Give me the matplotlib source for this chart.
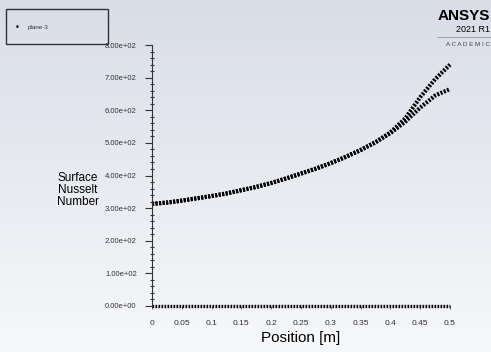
import numpy as np
import matplotlib.pyplot as plt
from matplotlib.ticker import MultipleLocator
from matplotlib.colors import LinearSegmentedColormap

# values
pos = [0, 0.025, 0.05, 0.075, 0.1, 0.125, 0.15, 0.175, 0.2, 0.225, 0.25,
       0.275, 0.3, 0.325, 0.35, 0.375, 0.4, 0.425, 0.45, 0.475, 0.5]
nu_upper = [313, 317, 323, 330, 337, 345, 355, 365, 377, 391, 406,
            421, 438, 457, 478, 502, 532, 575, 640, 695, 740]
nu_lower = [313, 317, 323, 330, 337, 345, 355, 365, 377, 391, 406,
            421, 438, 457, 478, 502, 530, 565, 608, 645, 665]
nu_wall = [0] * len(pos)
yticks = [0, 100, 200, 300, 400, 500, 600, 700, 800]
xticks = [0, 0.05, 0.1, 0.15, 0.2, 0.25, 0.3, 0.35, 0.4, 0.45, 0.5]

font = ['Liberation Sans Narrow', 'Liberation Sans', 'DejaVu Sans']

fig = plt.figure(figsize=(4.91, 3.52), dpi=100)

# background gradient
bg = fig.add_axes([0, 0, 1, 1])
grad = np.linspace(0, 1, 256).reshape(-1, 1)
cm = LinearSegmentedColormap.from_list('bg', ['#d9dde7', '#f7f8fa'])
bg.imshow(grad, aspect='auto', cmap=cm, extent=[0, 1, 0, 1])
bg.set_axis_off()

ax = fig.add_axes([152 / 491, 1 - 306 / 352, 298 / 491, 261 / 352])
ax.patch.set_alpha(0)

for s in (nu_upper, nu_lower):
    ax.plot(pos, s, color='black', lw=3.0, ls=(0, (0.5, 0.35)), clip_on=False)
ax.plot(pos, nu_wall, color='black', lw=2.4, ls=(0, (0.5, 0.4)), clip_on=False)

ax.set_xlim(0, 0.5)
ax.set_ylim(0, 800)
ax.set_yticks(yticks)
ax.set_yticklabels([f'{v:.2e}' for v in yticks])
ax.set_xticks(xticks)
ax.set_xticklabels([f'{v:g}' for v in xticks])
ax.yaxis.set_minor_locator(MultipleLocator(20))
for s in ('top', 'right', 'bottom'):
    ax.spines[s].set_visible(False)
ax.spines['left'].set_color('#333333')
ax.tick_params(axis='y', which='major', length=5, width=0.8, color='#333333',
               labelsize=5.5, pad=6)
ax.tick_params(axis='y', which='minor', length=3, width=0.8, color='#333333',
               direction='inout')
ax.tick_params(axis='x', length=2, width=0.6, color='#555555', labelsize=6,
               pad=8)
for lab in ax.get_yticklabels() + ax.get_xticklabels():
    lab.set_family(font)
    lab.set_color('#333333')

ax.set_xlabel('Position [m]', fontsize=11, family=font, labelpad=3)
fig.text(78 / 491, 1 - 190 / 352, 'Surface\nNusselt\nNumber', ha='center',
         va='center', fontsize=8.5, family=font, linespacing=1.0)

# legend box
fig.patches.append(plt.Rectangle((6 / 491, 1 - 44 / 352), 102 / 491, 35 / 352,
                                 transform=fig.transFigure, fill=False,
                                 edgecolor='#333333', lw=1))
fig.text(17 / 491, 1 - 28 / 352, '\u2022', ha='center', va='center', fontsize=6)
fig.text(28 / 491, 1 - 28 / 352, 'plane-3', ha='left', va='center',
         fontsize=4.5, family=font, color='#333333')

# logo
fig.text(490 / 491, 1 - 16 / 352, 'ANSYS', ha='right', va='center',
         fontsize=11, fontweight='bold', family=font)
fig.text(490 / 491, 1 - 30 / 352, '2021 R1', ha='right', va='center',
         fontsize=6.5, family=font)
fig.add_artist(plt.Line2D([437 / 491, 1], [1 - 37 / 352, 1 - 37 / 352],
                          color='#999999', lw=0.6))
fig.text(490 / 491, 1 - 45 / 352, 'A C A D E M I C', ha='right', va='center',
         fontsize=4.5, color='#444444', family=font)

fig.savefig('out.png', dpi=100)
